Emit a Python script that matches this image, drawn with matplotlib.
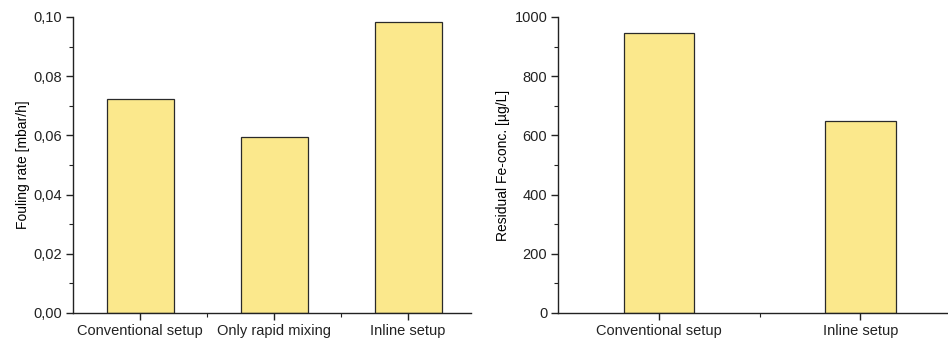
import matplotlib
matplotlib.use("Agg")
import matplotlib.pyplot as plt
from matplotlib.ticker import FuncFormatter, MultipleLocator, FixedLocator

plt.rcParams['font.family'] = ['Liberation Sans', 'DejaVu Sans']

# left panel - fouling rate
fouling_labels = ["Conventional setup", "Only rapid mixing", "Inline setup"]
fouling_rate = [0.0723, 0.0596, 0.0984]

# right panel - residual iron
fe_labels = ["Conventional setup", "Inline setup"]
fe_conc = [944, 649]

bar_color = "#fbe88c"
edge_color = "#2a2a2a"


def style_axes(ax):
    ax.spines['top'].set_visible(False)
    ax.spines['right'].set_visible(False)
    for s in ['left', 'bottom']:
        ax.spines[s].set_linewidth(1.0)
        ax.spines[s].set_color("#222222")
    ax.tick_params(axis='both', which='major', direction='out', length=5, width=1,
                   labelsize=10.5, colors="#222222", pad=3)
    ax.tick_params(axis='both', which='minor', direction='out', length=3, width=0.8,
                   colors="#222222")


fig = plt.figure(figsize=(9.48, 3.38), dpi=100)

# fouling rate chart
ax1 = fig.add_axes([0.077, 0.074, 0.42, 0.876])
x1 = list(range(1, len(fouling_rate) + 1))
ax1.bar(x1, fouling_rate, width=0.5, color=bar_color, edgecolor=edge_color, linewidth=0.9)
ax1.set_xlim(0.5, 3.47)
ax1.set_ylim(0, 0.1)
ax1.set_xticks(x1)
ax1.set_xticklabels(fouling_labels)
ax1.xaxis.set_minor_locator(FixedLocator([1.5, 2.5]))
ax1.yaxis.set_major_locator(MultipleLocator(0.02))
ax1.yaxis.set_minor_locator(MultipleLocator(0.01))
ax1.yaxis.set_major_formatter(FuncFormatter(lambda v, p: f"{v:.2f}".replace(".", ",")))
ax1.set_ylabel("Fouling rate [mbar/h]", fontsize=10, labelpad=2)
style_axes(ax1)

# residual Fe chart
ax2 = fig.add_axes([0.589, 0.074, 0.41, 0.876])
x2 = list(range(1, len(fe_conc) + 1))
ax2.bar(x2, fe_conc, width=0.35, color=bar_color, edgecolor=edge_color, linewidth=0.9)
ax2.set_xlim(0.5, 2.43)
ax2.set_ylim(0, 1000)
ax2.set_xticks(x2)
ax2.set_xticklabels(fe_labels)
ax2.xaxis.set_minor_locator(FixedLocator([1.5]))
ax2.yaxis.set_major_locator(MultipleLocator(200))
ax2.yaxis.set_minor_locator(MultipleLocator(100))
ax2.set_ylabel("Residual Fe-conc. [µg/L]", fontsize=10, labelpad=3)
style_axes(ax2)

fig.savefig("out.png", dpi=100)
